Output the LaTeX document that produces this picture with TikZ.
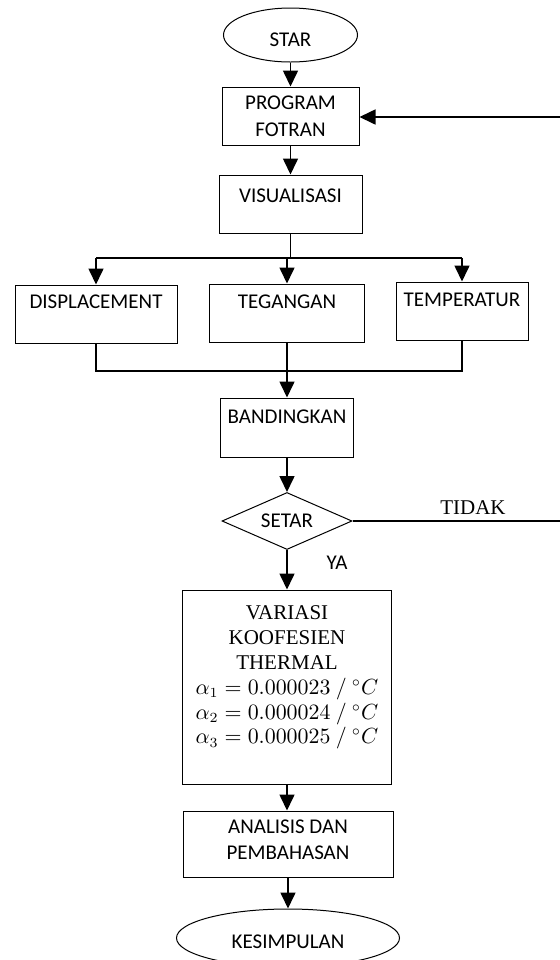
\documentclass[tikz,border=0pt]{standalone}
\usepackage{fontspec}
\setmainfont{Carlito}
\newfontfamily\tnr{Liberation Serif}
\usetikzlibrary{shapes.geometric,arrows.meta}
\newcommand\bxt[5]{\parbox[c][#2pt][t]{#1pt}{\centering\fontsize{10.5}{#4pt}\selectfont\vspace*{#3pt}#5\par}}
\tikzset{
  box/.style={draw, line width=0.5pt, rectangle, inner sep=0pt},
  oval/.style={draw, line width=0.5pt, ellipse, inner sep=0pt},
  dec/.style={draw, line width=0.5pt, diamond, inner sep=0pt},
  conn/.style={line width=0.8pt},
  arr/.style={conn, -{Triangle[length=8pt,width=7.5pt]}},
  lbl/.style={inner sep=0pt, font=\fontsize{10.5}{13}\selectfont}
}
\begin{document}
\begin{tikzpicture}[x=0.5pt,y=-0.5pt,font=\fontsize{10.5}{13}\selectfont]
\useasboundingbox (0,0) rectangle (560,960);
% nodes
\node[oval, minimum width=67pt, minimum height=27pt] (star) at (290.5,35) {\raisebox{-5.9pt}[0pt][0pt]{STAR}};
\node[box] (prog) at (290.5,116) {\bxt{68.5}{29}{4.6}{13.5}{PROGRAM\\FOTRAN}};
\node[box] (vis) at (290.5,204) {\bxt{71.5}{29}{7.1}{13}{VISUALISASI}};
\node[box] (disp) at (96,314) {\bxt{81}{29}{5.1}{13}{DISPLACEMENT}};
\node[box] (teg) at (287,313) {\bxt{77.5}{29}{5.6}{13}{TEGANGAN}};
\node[box] (temp) at (462,311) {\bxt{66}{29}{5.6}{13}{TEMPERATUR}};
\node[box] (band) at (287,427.5) {\bxt{66.5}{29.5}{6.1}{13}{BANDINGKAN}};
\node[dec, minimum width=65pt, minimum height=28.5pt] (setar) at (287,521) {\makebox[0pt]{\raisebox{-3.4pt}[0pt][0pt]{SETAR}}};
\node[box] (var) at (287,687) {\bxt{104.5}{97}{8}{12.4}{\tnr VARIASI\\KOOFESIEN\\THERMAL\\$\alpha_1 = 0.000023\ /\ {}^\circ C$\\$\alpha_2 = 0.000024\ /\ {}^\circ C$\\$\alpha_3 = 0.000025\ /\ {}^\circ C$}};
\node[box] (anal) at (288,844) {\bxt{105}{33}{4.6}{13}{ANALISIS DAN\\PEMBAHASAN}};
\node[oval, minimum width=111.5pt, minimum height=29pt] (kes) at (288,938) {\raisebox{-5.4pt}[0pt][0pt]{KESIMPULAN}};
\node[lbl, font=\fontsize{10.5}{13}\selectfont\tnr] (tidak) at (473,508) {TIDAK};
\node[lbl] (ya) at (337,563) {YA};
% coordinates
\coordinate (fb) at (560,117);
\coordinate (split) at (290,258);
\coordinate (merge) at (287,371);
\coordinate (no) at (560,521);
% connectors
\draw[arr] (star.south) -- (prog.north);
\draw[arr] (fb) -- (prog.east |- fb);
\draw[arr] (prog.south) -- (vis.north);
\draw[conn] (vis.south) -- (vis.south |- split);
\draw[conn] (disp.north |- split) -- (temp.north |- split);
\draw[arr] (disp.north |- split) -- (disp.north);
\draw[arr] (teg.north |- split) -- (teg.north);
\draw[arr] (temp.north |- split) -- (temp.north);
\draw[conn] (disp.south) -- (disp.south |- merge) -- (temp.south |- merge) -- (temp.south);
\draw[arr] (teg.south) -- (teg.south |- band.north);
\draw[arr] (band.south) -- (setar.north);
\draw[conn] (setar.east) -- (no);
\draw[arr] (setar.south) -- (var.north);
\draw[arr] (var.south) -- (var.south |- anal.north);
\draw[arr] (anal.south) -- (kes.north);
\end{tikzpicture}
\end{document}
